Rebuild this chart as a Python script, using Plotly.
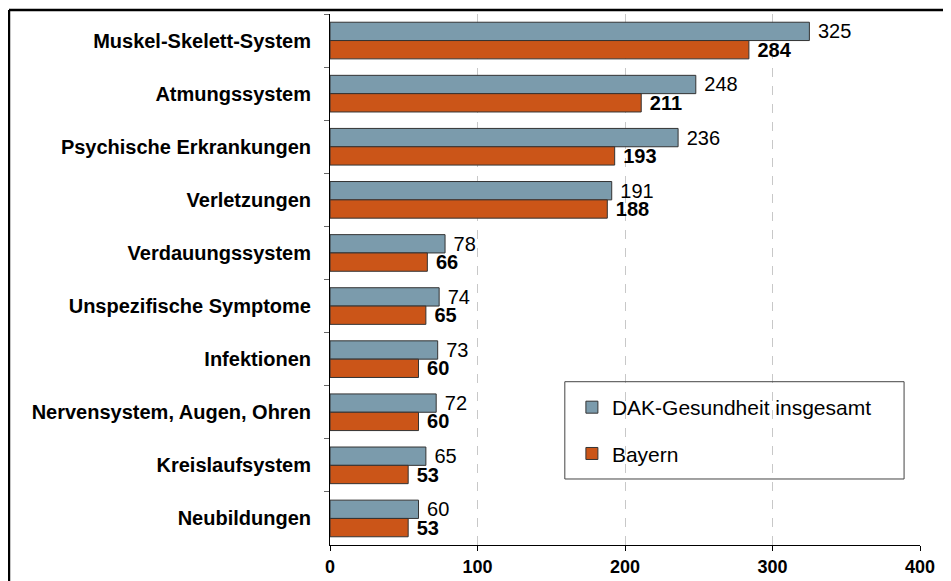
import plotly.graph_objects as go

categories = ["Muskel-Skelett-System", "Atmungssystem", "Psychische Erkrankungen",
              "Verletzungen", "Verdauungssystem", "Unspezifische Symptome",
              "Infektionen", "Nervensystem, Augen, Ohren", "Kreislaufsystem", "Neubildungen"]
dak_values = [325, 248, 236, 191, 78, 74, 73, 72, 65, 60]
bayern_values = [284, 211, 193, 188, 66, 65, 60, 60, 53, 53]
series_names = ["DAK-Gesundheit insgesamt", "Bayern"]
x_ticks = [0, 100, 200, 300, 400]

FONT = "Liberation Sans, Arial, sans-serif"
BLUE = "#7B9BAC"
ORANGE = "#CB5518"

fig = go.Figure()
fig.add_trace(go.Bar(
    y=categories, x=dak_values, orientation="h", name=series_names[0],
    marker=dict(color=BLUE, line=dict(color="#333333", width=1)),
    text=dak_values, texttemplate=" %{x}", textposition="outside",
    textfont=dict(family=FONT, size=20, color="#000000"),
    constraintext="none", cliponaxis=False, legendgroup="a",
))
fig.add_trace(go.Bar(
    y=categories, x=bayern_values, orientation="h", name=series_names[1],
    marker=dict(color=ORANGE, line=dict(color="#333333", width=1)),
    text=bayern_values, texttemplate=" <b>%{x}</b>", textposition="outside",
    textfont=dict(family=FONT, size=20, color="#000000"),
    constraintext="none", cliponaxis=False, legendgroup="b",
))

# page body adds an 8px offset; sizes/margins compensate for it
fig.update_layout(
    width=943, height=573,
    margin=dict(l=322, r=31, t=6, b=36, autoexpand=False),
    paper_bgcolor="white", plot_bgcolor="white",
    barmode="group", bargap=0.31, bargroupgap=0,
    font=dict(family=FONT, color="#000000"),
    showlegend=True,
    legend=dict(
        x=0.41, y=0.2975, xanchor="left", yanchor="top",
        bgcolor="rgba(0,0,0,0)", borderwidth=0,
        font=dict(family=FONT, size=21, color="#000000"),
        traceorder="grouped", tracegroupgap=16,
    ),
    xaxis=dict(
        range=[0, 400], tickvals=x_ticks, ticktext=[str(v) for v in x_ticks],
        showgrid=True, gridcolor="#C8C8C8", griddash="dash", gridwidth=1,
        showline=True, linecolor="#000000", linewidth=1,
        ticks="outside", ticklen=5, tickcolor="#000000",
        tickfont=dict(family=FONT, size=18, color="#000000", weight="bold"),
        zeroline=False,
    ),
    yaxis=dict(
        categoryorder="array", categoryarray=categories, autorange="reversed",
        showgrid=False, showline=True, linecolor="#000000", linewidth=1,
        ticks="outside", ticklen=5, tickcolor="#666666", tickson="boundaries",
        tickfont=dict(family=FONT, size=20, color="#000000", weight="bold"),
        ticklabelstandoff=14,
    ),
    shapes=[
        # legend box
        dict(type="rect", xref="paper", yref="paper", x0=0.398, x1=0.973, y0=0.1243, y1=0.3075,
             line=dict(color="#444444", width=1), fillcolor="rgba(0,0,0,0)", layer="above"),
        # outer frame (top and left edges)
        dict(type="line", xref="paper", yref="paper", x0=-0.5441, x1=1.2, y0=1.0075, y1=1.0075,
             line=dict(color="#000000", width=2.5), layer="above"),
        dict(type="line", xref="paper", yref="paper", x0=-0.5441, x1=-0.5441, y0=1.0075, y1=-0.2,
             line=dict(color="#000000", width=2.5), layer="above"),
    ],
)

fig.write_html("out.html")
